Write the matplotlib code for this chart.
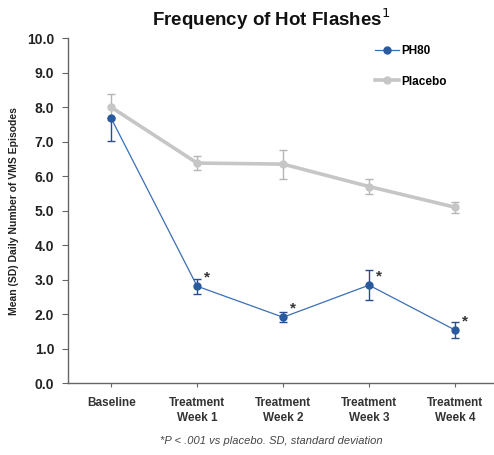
import numpy as np
import matplotlib
matplotlib.use('Agg')
import matplotlib.pyplot as plt
from matplotlib.lines import Line2D

plt.rcParams['font.family'] = ['Liberation Sans', 'DejaVu Sans']

CATEGORIES = ['Baseline', 'Treatment\nWeek 1', 'Treatment\nWeek 2', 'Treatment\nWeek 3', 'Treatment\nWeek 4']
PH80_MEAN = [7.68, 2.81, 1.91, 2.84, 1.54]
PH80_SD_LOW = [0.65, 0.22, 0.15, 0.43, 0.22]
PH80_SD_HIGH = [0.0, 0.22, 0.15, 0.43, 0.22]   # baseline upper bar hidden behind placebo
PLACEBO_MEAN = [8.0, 6.38, 6.35, 5.70, 5.10]
PLACEBO_SD = [0.38, 0.20, 0.42, 0.22, 0.16]
SIGNIFICANT = [False, True, True, True, True]

BLUE = '#2a5a9e'
GREY = '#c6c6c6'

x = np.arange(len(CATEGORIES))

fig = plt.figure(figsize=(4.94, 4.55), dpi=100)
ax = fig.add_axes([0.138, 0.158, 0.87, 0.758])

ax.errorbar(x, PLACEBO_MEAN, yerr=PLACEBO_SD, color=GREY, lw=2.6,
            marker='o', ms=5, ecolor='#b5b5b5', elinewidth=1, capsize=3,
            capthick=1, zorder=2)
ax.errorbar(x, PH80_MEAN, yerr=[PH80_SD_LOW, PH80_SD_HIGH], color='#3a6fb5', lw=0.9,
            marker='o', ms=5, mfc=BLUE, mec=BLUE,
            ecolor='#2a4f86', elinewidth=1, capsize=3, capthick=1, zorder=3)

for xi, m, sig in zip(x, PH80_MEAN, SIGNIFICANT):
    if sig:
        ax.text(xi + 0.08, m + 0.05, '*', fontsize=11, fontweight='bold',
                color='#333333', ha='left', va='bottom')

ax.set_xlim(-0.5, 4.5)
ax.set_ylim(0, 10)
ax.set_yticks(np.arange(0, 10.1, 1.0))
ax.set_yticklabels(['%.1f' % v for v in np.arange(0, 10.1, 1.0)],
                   fontsize=10, fontweight='bold', color='#222222')
ax.set_xticks(x)
ax.set_xticklabels(CATEGORIES, fontsize=8.5, fontweight='bold', color='#333333',
                   linespacing=1.3)
ax.tick_params(axis='y', length=4, width=0.8, color='#666666', pad=6)
ax.tick_params(axis='x', length=3, width=0.8, color='#666666', pad=7)
for side in ['top', 'right']:
    ax.spines[side].set_visible(False)
for side in ['left', 'bottom']:
    ax.spines[side].set_color('#666666')
    ax.spines[side].set_linewidth(1.0)

ax.set_ylabel('Mean (SD) Daily Number of VMS Episodes', fontsize=7.5,
              fontweight='bold', color='#222222', labelpad=6)

handles = [Line2D([], [], color='#3a6fb5', lw=0.9, marker='o', ms=5, mfc=BLUE, mec=BLUE),
           Line2D([], [], color=GREY, lw=2.6, marker='o', ms=5)]
ax.legend(handles, ['PH80', 'Placebo'], loc='upper right',
          bbox_to_anchor=(0.905, 1.012), frameon=False,
          prop={'size': 8.5, 'weight': 'bold'}, labelspacing=1.6,
          handlelength=2.0, handletextpad=0.2)

fig.text(0.55, 0.957, 'Frequency of Hot Flashes$^{1}$', ha='center', va='center',
         fontsize=13.5, fontweight='bold', color='#111111')
fig.text(0.55, 0.03, '*P < .001 vs placebo. SD, standard deviation', ha='center',
         va='center', fontsize=8, style='italic', color='#444444')

fig.savefig('out.png', dpi=100)
